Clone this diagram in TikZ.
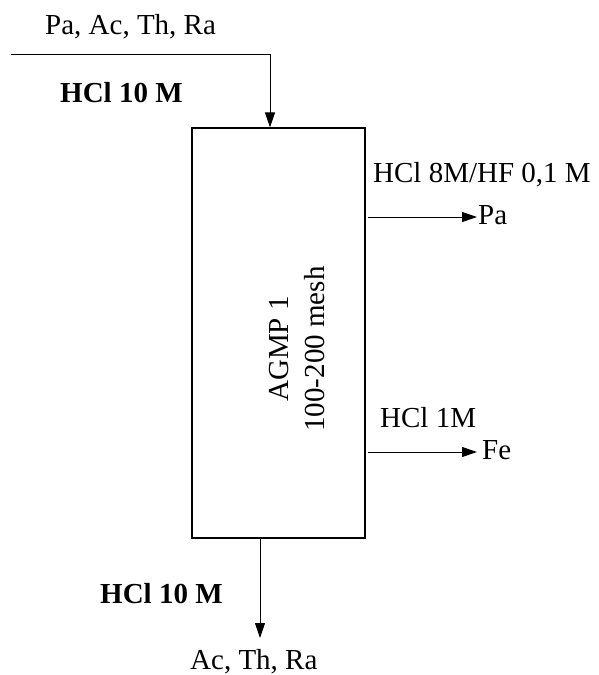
\documentclass[tikz,border=0pt]{standalone}
\usepackage{fontspec}
\setmainfont{Liberation Serif}
\usetikzlibrary{arrows.meta}
\begin{document}
\begin{tikzpicture}[x=1pt,y=-1pt,
  txt/.style={anchor=base west,inner sep=0pt,font=\fontsize{29}{34}\selectfont},
  btxt/.style={txt,font=\fontsize{29}{34}\selectfont\bfseries},
  conn/.style={line width=1pt,-{Triangle[length=15pt,width=10pt]}},
  column/.style={draw,line width=1.2pt,minimum width=173pt,minimum height=410pt,inner sep=0pt}]
\useasboundingbox (0,0) rectangle (598,675);
\node[column] (box) at (278.5,333) {};
\node[rotate=90,align=center,inner sep=0pt,font=\fontsize{29}{36}\selectfont] (lbl) at (297,349) {AGMP 1\\100-200 mesh};
% inlet
\coordinate (in) at (11,54);
\coordinate (turn) at (270,54);
\draw[conn] (in) -- (turn) -- (turn |- box.north);
\node[txt] (feed) at (45,34) {Pa, Ac, Th, Ra};
\node[btxt] (hcltop) at (60,102) {HCl 10 M};
% Pa outlet
\coordinate (pa) at (477,217);
\draw[conn,shorten <=2pt] (box.east |- pa) -- (pa);
\node[txt] (hf) at (373,182) {HCl 8M/HF 0,1 M};
\node[txt] (patxt) at (478,224) {Pa};
% Fe outlet
\coordinate (fe) at (477,452);
\draw[conn,shorten <=2pt] (box.east |- fe) -- (fe);
\node[txt] (hcl1) at (380,427) {HCl 1M};
\node[txt] (fetxt) at (482,459) {Fe};
% bottom outlet
\coordinate (out) at (260,638);
\draw[conn] (out |- box.south) -- (out);
\node[btxt] (hclbot) at (100,603) {HCl 10 M};
\node[txt] (prod) at (190,669) {Ac, Th, Ra};
\end{tikzpicture}
\end{document}
